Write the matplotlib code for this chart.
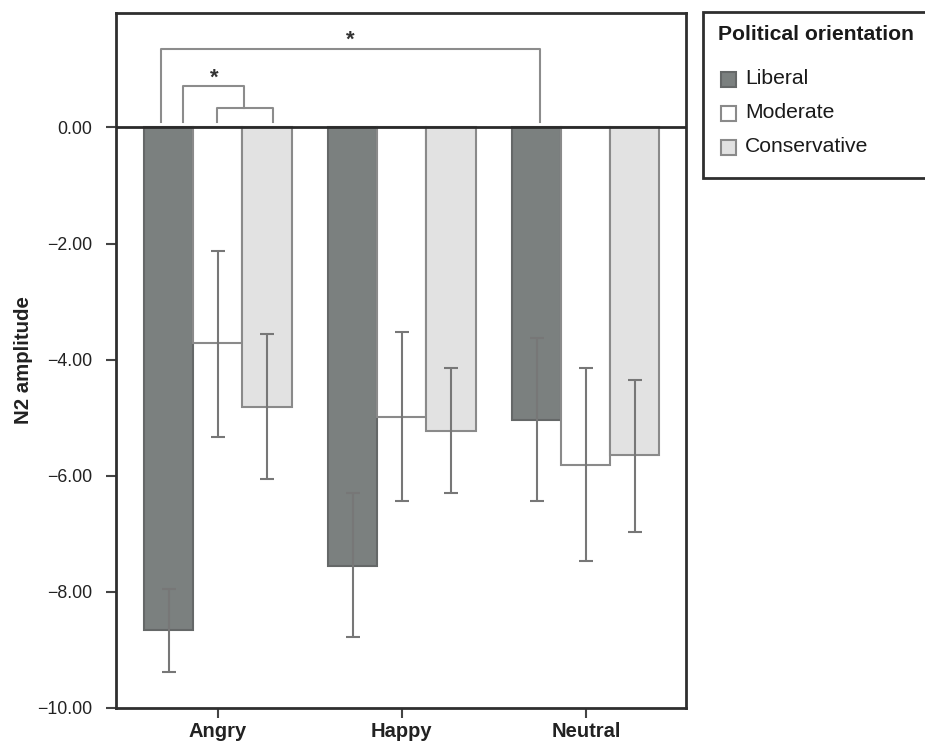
import numpy as np
import matplotlib
matplotlib.use('Agg')
import matplotlib.pyplot as plt
from matplotlib.patches import Rectangle

plt.rcParams['font.family'] = ['Liberation Sans', 'DejaVu Sans']

# data
emotions = ['Angry', 'Happy', 'Neutral']
groups = ['Liberal', 'Moderate', 'Conservative']
liberal = [-8.66, -7.55, -5.04]
moderate = [-3.72, -4.99, -5.82]
conservative = [-4.82, -5.23, -5.65]
liberal_ci = [(-9.38, -7.95), (-8.78, -6.29), (-6.44, -3.63)]
moderate_ci = [(-5.34, -2.12), (-6.44, -3.53), (-7.46, -4.14)]
conservative_ci = [(-6.06, -3.56), (-6.29, -4.14), (-6.96, -4.35)]
yticks = [0, -2, -4, -6, -8, -10]
ytick_labels = ['0.00', '\u22122.00', '\u22124.00', '\u22126.00', '\u22128.00', '\u221210.00']

face = {'Liberal': '#7b807f', 'Moderate': '#ffffff', 'Conservative': '#e2e2e2'}
edge = {'Liberal': '#656868', 'Moderate': '#8a8a8a', 'Conservative': '#8a8a8a'}

W, H = 925, 744
fig = plt.figure(figsize=(W / 100, H / 100), dpi=100)
ax = fig.add_axes([0.1254, 0.0484, 0.616, 0.934])

x = np.arange(len(emotions))
w = 0.8 / 3
series = [liberal, moderate, conservative]
cis = [liberal_ci, moderate_ci, conservative_ci]
for i, g in enumerate(groups):
    pos = x + (i - 1) * w
    ax.bar(pos, series[i], width=w, color=face[g], edgecolor=edge[g], linewidth=1.5, zorder=2)
    lo = [series[i][k] - cis[i][k][0] for k in range(3)]
    hi = [cis[i][k][1] - series[i][k] for k in range(3)]
    ax.errorbar(pos, series[i], yerr=[lo, hi], fmt='none', ecolor='#777777',
                elinewidth=1.5, capsize=5, capthick=1.5, zorder=3)

# zero line
ax.axhline(0, color='#2a2a2a', lw=2, zorder=4)

# significance brackets
bc = '#8c8c8c'
ax.plot([-0.31, -0.31, 1.75, 1.75], [0.09, 1.36, 1.36, 0.09], color=bc, lw=1.5)
ax.text(0.72, 1.50, '*', ha='center', va='center', fontsize=16, fontweight='bold', color='#333333')
ax.plot([-0.005, -0.005, 0.30, 0.30], [0.09, 0.33, 0.33, 0.09], color=bc, lw=1.5)
ax.plot([-0.19, -0.19, 0.141, 0.141], [0.09, 0.71, 0.71, 0.33], color=bc, lw=1.5)
ax.text(-0.02, 0.84, '*', ha='center', va='center', fontsize=16, fontweight='bold', color='#333333')

ax.set_xlim(-0.554, 2.543)
ax.set_ylim(-10, 1.97)
ax.set_yticks(yticks)
ax.set_yticklabels(ytick_labels, fontsize=12.8, color='#222222')
ax.set_xticks(x)
ax.set_xticklabels(emotions, fontsize=14.5, fontweight='bold', color='#222222')
ax.tick_params(axis='both', direction='out', length=7, width=1.5, color='#444444')
ax.tick_params(axis='y', pad=10)
ax.tick_params(axis='x', pad=3)
for s in ax.spines.values():
    s.set_linewidth(2)
    s.set_color('#2f2f2f')
ax.set_ylabel('N2 amplitude', fontsize=14.7, fontweight='bold', color='#222222', labelpad=3)

# legend box, drawn by hand in figure pixels
def fx(px):
    return px / W

def fy(py):
    return 1 - py / H

fig.add_artist(Rectangle((fx(703), fy(178)), fx(260), (178 - 12) / H, transform=fig.transFigure,
                         facecolor='white', edgecolor='#2f2f2f', linewidth=2, clip_on=False))
fig.text(fx(718), fy(35), 'Political orientation', ha='left', va='center',
         fontsize=15.2, fontweight='bold', color='#1a1a1a')
for g, cy in zip(groups, [79, 113, 147]):
    fig.add_artist(Rectangle((fx(721), fy(cy + 7.5)), fx(15), 15 / H, transform=fig.transFigure,
                             facecolor=face[g], edgecolor=edge[g], linewidth=1.5))
    fig.text(fx(745), fy(cy), g, ha='left', va='center', fontsize=15.2, color='#1a1a1a')

fig.savefig('out.png', dpi=100)
